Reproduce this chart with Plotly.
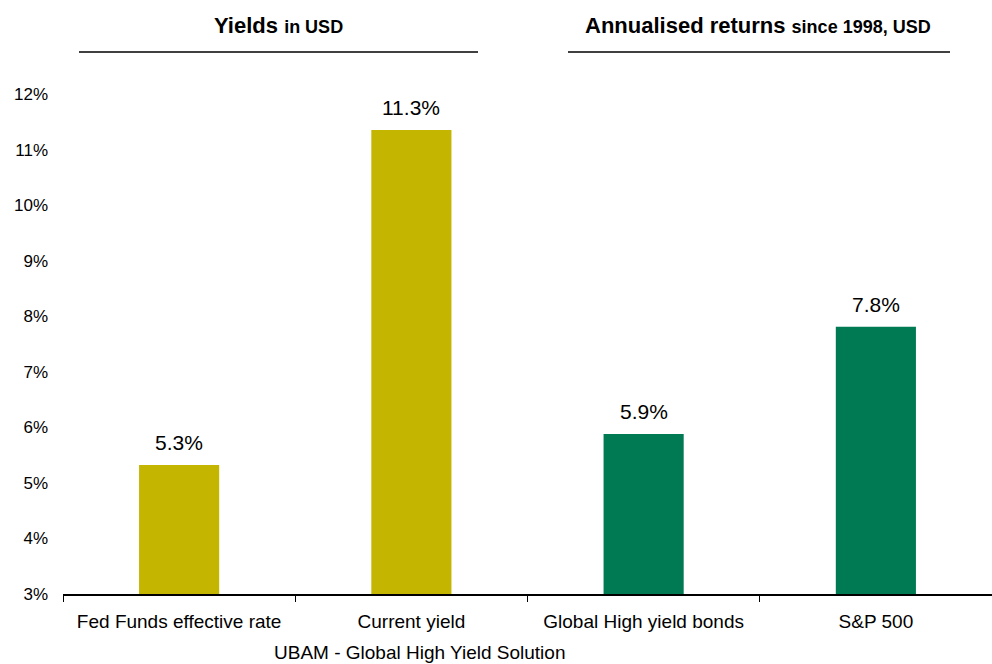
import plotly.graph_objects as go

categories = ["Fed Funds effective rate", "Current yield", "Global High yield bonds", "S&P 500"]
values = [5.32, 11.35, 5.88, 7.81]
bar_colors = ["#C4B500", "#C4B500", "#007A53", "#007A53"]
value_labels = ["5.3%", "11.3%", "5.9%", "7.8%"]
y_ticks = [3, 4, 5, 6, 7, 8, 9, 10, 11, 12]
y_tick_labels = [f"{v}%" for v in y_ticks]

NARROW = "Liberation Sans Narrow, Arial Narrow, Liberation Sans, Arial, sans-serif"
REG = "Liberation Sans, Arial, sans-serif"

W, H = 992, 664
ML, MR, MT, MB = 63, 0, 94, 70
pw = W - ML - MR
ph = H - MT - MB


def px(x):
    return (x - ML) / pw


def py(y):
    return (H - y - MB) / ph


fig = go.Figure()
fig.add_trace(go.Bar(
    x=categories, y=values,
    marker=dict(color=bar_colors, line=dict(width=0)),
    width=0.345,
    hoverinfo="skip",
))

for c, v, t in zip(categories, values, value_labels):
    fig.add_annotation(
        x=c, y=v, xref="x", yref="y", text=t, showarrow=False,
        yanchor="bottom", yshift=9,
        font=dict(family=REG, size=21, color="#000000"),
    )

fig.update_layout(
    width=W, height=H,
    margin=dict(l=ML, r=MR, t=MT, b=MB),
    plot_bgcolor="white", paper_bgcolor="white",
    showlegend=False,
    xaxis=dict(
        range=[-0.5, 3.5],
        showline=True, linecolor="#000000", linewidth=1.5,
        ticks="outside", tickson="boundaries", ticklen=6, tickcolor="#000000",
        tickfont=dict(family=NARROW, size=19, color="#000000"),
        ticklabelstandoff=9,
        showgrid=False, zeroline=False,
    ),
    yaxis=dict(
        range=[3, 12],
        tickvals=y_ticks, ticktext=y_tick_labels,
        showline=False, showgrid=False, zeroline=False,
        ticks="", ticklabelstandoff=14,
        tickfont=dict(family=REG, size=17, color="#000000"),
    ),
)

# Group headers
fig.add_annotation(
    x=px(278), y=py(25), xref="paper", yref="paper",
    text="<b>Yields</b> <span style='font-size:18px'><b>in USD</b></span>",
    showarrow=False, font=dict(family=NARROW, size=22, color="#000000"),
    xanchor="center", yanchor="middle",
)
fig.add_annotation(
    x=px(758), y=py(25), xref="paper", yref="paper",
    text="<b>Annualised returns</b> <span style='font-size:18px'><b>since 1998, USD</b></span>",
    showarrow=False, font=dict(family=NARROW, size=22, color="#000000"),
    xanchor="center", yanchor="middle",
)
fig.add_annotation(
    x=px(419), y=py(652), xref="paper", yref="paper",
    text="UBAM - Global High Yield Solution",
    showarrow=False, font=dict(family=NARROW, size=19, color="#000000"),
    xanchor="center", yanchor="middle",
)

for x0, x1 in [(79, 478), (568, 950)]:
    fig.add_shape(
        type="line", xref="paper", yref="paper",
        x0=px(x0), x1=px(x1), y0=py(52), y1=py(52),
        line=dict(color="#000000", width=1.5),
    )

fig.write_html("out.html")
